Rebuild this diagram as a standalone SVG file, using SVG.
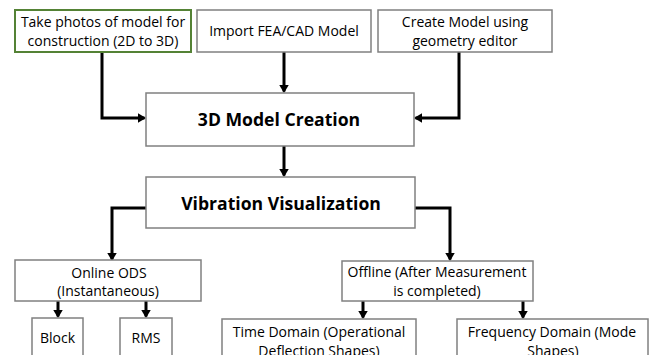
<svg xmlns="http://www.w3.org/2000/svg" width="654" height="355" viewBox="0 0 654 355">
<style>
.box{fill:#fff;stroke:#808080;stroke-width:1.5}
.green{fill:#fff;stroke:#548235;stroke-width:2}
.t{font-family:"Open Sans","Liberation Sans",sans-serif;font-size:14px;fill:#000;text-anchor:middle}
.b{font-family:"Open Sans","Liberation Sans",sans-serif;font-size:17.6px;font-weight:bold;fill:#000;text-anchor:middle}
.c{fill:none;stroke:#000;stroke-width:3}
</style>
<defs>
<marker id="ah" markerWidth="4" markerHeight="4" refX="2.2" refY="2" orient="auto" markerUnits="strokeWidth">
<path d="M0,0.4 L2.7,2 L0,3.6 Z" fill="#000"/>
</marker>
</defs>
<rect width="654" height="355" fill="#fff"/>
<g id="connectors">
<path class="c" d="M102,52 V118 H144.5" marker-end="url(#ah)"/>
<path class="c" d="M284,52 V91.5" marker-end="url(#ah)"/>
<path class="c" d="M459,52 V118 H415.5" marker-end="url(#ah)"/>
<path class="c" d="M284,146 V175.5" marker-end="url(#ah)"/>
<path class="c" d="M146,208 H112 V259.5" marker-end="url(#ah)"/>
<path class="c" d="M415,208 H450 V259.5" marker-end="url(#ah)"/>
<path class="c" d="M58,301 V316.5" marker-end="url(#ah)"/>
<path class="c" d="M146,301 V316.5" marker-end="url(#ah)"/>
<path class="c" d="M363,301 V317.5" marker-end="url(#ah)"/>
<path class="c" d="M523,301 V317.5" marker-end="url(#ah)"/>
</g>
<g id="photos">
<rect class="green" x="15" y="10" width="176" height="42"/>
<text class="t" x="103" y="27">Take photos of model for</text>
<text class="t" x="103" y="46">construction (2D to 3D)</text>
</g>
<g id="import">
<rect class="box" x="197" y="10" width="174" height="42"/>
<text class="t" x="284" y="36">Import FEA/CAD Model</text>
</g>
<g id="create">
<rect class="box" x="378" y="10" width="174" height="42"/>
<text class="t" x="465" y="27">Create Model using</text>
<text class="t" x="465" y="46">geometry editor</text>
</g>
<g id="model-creation">
<rect class="box" x="146" y="93" width="268" height="53"/>
<text class="b" x="279" y="126">3D Model Creation</text>
</g>
<g id="vibration">
<rect class="box" x="146" y="177" width="269" height="51"/>
<text class="b" x="281" y="210">Vibration Visualization</text>
</g>
<g id="online">
<rect class="box" x="15" y="260" width="186" height="41"/>
<text class="t" x="109" y="278">Online ODS</text>
<text class="t" x="108" y="296">(Instantaneous)</text>
</g>
<g id="offline">
<rect class="box" x="342" y="261" width="191" height="40"/>
<text class="t" x="437" y="277">Offline (After Measurement</text>
<text class="t" x="437" y="296">is completed)</text>
</g>
<g id="block">
<rect class="box" x="32" y="318" width="51" height="45"/>
<text class="t" x="57.5" y="343">Block</text>
</g>
<g id="rms">
<rect class="box" x="120" y="318" width="52" height="45"/>
<text class="t" x="146" y="343">RMS</text>
</g>
<g id="time">
<rect class="box" x="222" y="319" width="194" height="45"/>
<text class="t" x="319" y="337">Time Domain (Operational</text>
<text class="t" x="319" y="356">Deflection Shapes)</text>
</g>
<g id="frequency">
<rect class="box" x="457" y="319" width="191" height="45"/>
<text class="t" x="552" y="337">Frequency Domain (Mode</text>
<text class="t" x="553" y="356">Shapes)</text>
</g>
</svg>
